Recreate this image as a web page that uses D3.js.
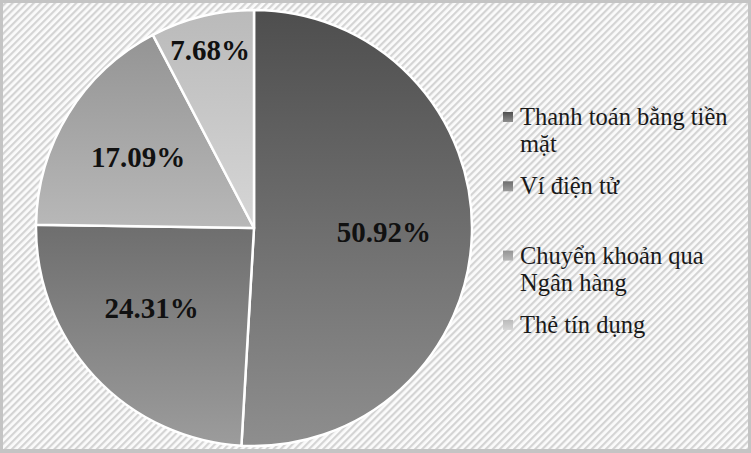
<!DOCTYPE html>
<html>
<head>
<meta charset="utf-8">
<script src="https://cdn.jsdelivr.net/npm/d3@7"></script>
<style>
  html, body { margin: 0; padding: 0; background: #fff; }
  svg { display: block; }
  text { font-family: 'Liberation Serif', 'Times New Roman', serif; }
</style>
</head>
<body>
<svg id="chart"></svg>
<script>
// chart data
const categories = ['Thanh toán bằng tiền mặt', 'Ví điện tử', 'Chuyển khoản qua Ngân hàng', 'Thẻ tín dụng'];
const legendLines = [['Thanh toán bằng tiền', 'mặt'], ['Ví điện tử'], ['Chuyển khoản qua', 'Ngân hàng'], ['Thẻ tín dụng']];
const values = [50.92, 24.31, 17.09, 7.68];
const labels = ['50.92%', '24.31%', '17.09%', '7.68%'];

// gradient stops per slice (top, bottom)
const shades = [['#4e4e4e', '#8e8e8e'], ['#6e6e6e', '#9c9c9c'], ['#949494', '#b8b8b8'], ['#bababa', '#d6d6d6']];

let width = 751;
let height = 453;
let cx = 254;
let cy = 228;
let radius = 218;

let svg = d3.select('#chart')
            .attr('width', width)
            .attr('height', height)

let defs = svg.append('defs')

// diagonal hatch background
let pat = defs.append('pattern')
              .attr('id', 'hatch')
              .attr('width', 5)
              .attr('height', 5)
              .attr('patternUnits', 'userSpaceOnUse')
              .attr('patternTransform', 'rotate(-45)')
pat.append('rect').attr('width', 5).attr('height', 5).attr('fill', '#fbfbfb')
pat.append('rect').attr('width', 5).attr('height', 2.2).attr('fill', '#d4d4d4')

shades.forEach((s, i) => {
    let g = defs.append('linearGradient')
                .attr('id', 'grad' + i)
                .attr('x1', 0).attr('y1', 0)
                .attr('x2', 0).attr('y2', 1)
    g.append('stop').attr('offset', '0%').attr('stop-color', s[0])
    g.append('stop').attr('offset', '100%').attr('stop-color', s[1])
})

// frame
svg.append('rect')
   .attr('x', 0).attr('y', 0)
   .attr('width', width).attr('height', height)
   .attr('fill', '#c4c4c4')
svg.append('rect')
   .attr('x', 3).attr('y', 3)
   .attr('width', width - 6).attr('height', height - 7)
   .attr('fill', 'url(#hatch)')

let pie = d3.pie().sort(null).value(d => d)
let arcs = pie(values)
let arc = d3.arc().innerRadius(0).outerRadius(radius)

let g = svg.append('g').attr('transform', 'translate(' + cx + ',' + cy + ')')

g.selectAll('path')
 .data(arcs)
 .enter()
 .append('path')
 .attr('d', arc)
 .attr('fill', (d, i) => 'url(#grad' + i + ')')
 .attr('stroke', '#fff')
 .attr('stroke-width', 2.5)
 .attr('stroke-linejoin', 'round')

// label placement (fraction of radius, angle shift in degrees)
const labelRadius = [0.596, 0.595, 0.624, 0.84];
const labelShift = [0, 5, 0, 0];
g.selectAll('text.lbl')
 .data(arcs)
 .enter()
 .append('text')
 .attr('class', 'lbl')
 .attr('transform', (d, i) => {
    let a = (d.startAngle + d.endAngle) / 2 + labelShift[i] * Math.PI / 180
    let r = radius * labelRadius[i]
    return 'translate(' + (Math.sin(a) * r) + ',' + (-Math.cos(a) * r) + ')'
 })
 .attr('text-anchor', 'middle')
 .attr('dy', '0.35em')
 .attr('font-weight', 'bold')
 .attr('font-size', 29)
 .attr('fill', '#111')
 .text((d, i) => labels[i])

// legend
let legend = svg.append('g').attr('transform', 'translate(503, 117)')
let item = legend.selectAll('g')
                 .data(categories)
                 .enter()
                 .append('g')
                 .attr('transform', (d, i) => 'translate(0,' + (i * 69.3) + ')')

item.append('rect')
    .attr('x', 0).attr('y', -5)
    .attr('width', 10).attr('height', 10)
    .attr('fill', (d, i) => 'url(#grad' + i + ')')

item.append('text')
    .attr('x', 17)
    .attr('y', 8)
    .attr('font-size', 24.5)
    .attr('fill', '#1a1a1a')
    .each(function(d, i) {
        let t = d3.select(this)
        legendLines[i].forEach((line, j) => {
            t.append('tspan')
             .attr('x', 17)
             .attr('dy', j === 0 ? 0 : 27)
             .text(line)
        })
    })
</script>
</body>
</html>
